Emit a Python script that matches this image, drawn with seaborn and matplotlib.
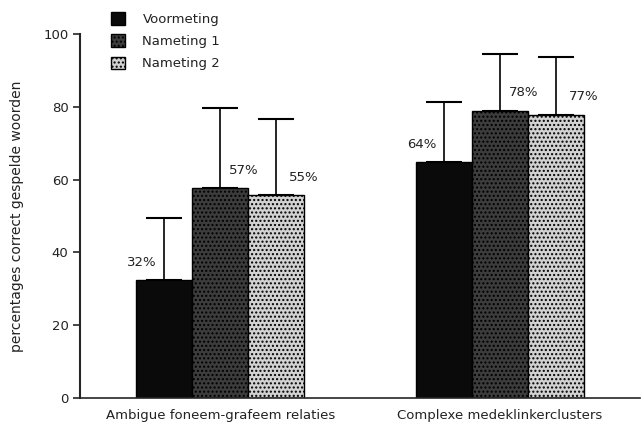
import pandas as pd
import matplotlib.pyplot as plt
import seaborn as sns
from matplotlib.patches import Patch

# Gegevens
categories = ["Ambigue foneem-grafeem relaties", "Complexe medeklinkerclusters"]
series = ["Voormeting", "Nameting 1", "Nameting 2"]
voormeting = [32.4, 64.8]
nameting_1 = [57.6, 78.9]
nameting_2 = [55.7, 77.9]
sd_voormeting = [17.1, 16.5]
sd_nameting_1 = [22.1, 15.6]
sd_nameting_2 = [20.9, 15.8]
labels = [["32%", "64%"], ["57%", "78%"], ["55%", "77%"]]

values = [voormeting, nameting_1, nameting_2]
sds = [sd_voormeting, sd_nameting_1, sd_nameting_2]
rows = []
for s, vals in zip(series, values):
    for c, v in zip(categories, vals):
        rows.append({"conditie": c, "meting": s, "waarde": v})
df = pd.DataFrame(rows)

sns.set_style("ticks")
plt.rcParams["font.family"] = ["DejaVu Sans"]
plt.rcParams["hatch.color"] = "#8f8f8f"

fig = plt.figure(figsize=(6.42, 4.22), dpi=100)
ax = fig.add_axes([0.125, 0.057, 0.872, 0.862])

colors = ["#0a0a0a", "#3c3c3c", "#d2d2d2"]
sns.barplot(data=df, x="conditie", y="waarde", hue="meting", hue_order=series,
            order=categories, palette=colors, width=0.6, errorbar=None,
            legend=False, ax=ax, saturation=1, zorder=2)

hatches = [None, "....", "...."]
label_dx = [-22, 24, 28]
bar_conts = list(ax.containers)
for i, cont in enumerate(bar_conts):
    for j, bar in enumerate(cont):
        bar.set_edgecolor("black")
        bar.set_linewidth(1.0)
        if hatches[i]:
            bar.set_hatch(hatches[i])
        xc = bar.get_x() + bar.get_width() / 2
        h = bar.get_height()
        # alleen naar boven; onderste kap valt achter de staaf
        ax.errorbar(xc, h, yerr=[[0], [sds[i][j]]], fmt="none", ecolor="black",
                    elinewidth=1.2, capsize=13, capthick=1.5, zorder=1)
        ax.annotate(labels[i][j], (xc, h), xytext=(label_dx[i], 18),
                    textcoords="offset pixels", ha="center", va="center",
                    fontsize=9.5, color="#222222")

ax.set_ylim(0, 100)
ax.set_xlim(-0.5, 1.5)
ax.set_yticks([0, 20, 40, 60, 80, 100])
ax.set_ylabel("percentages correct gespelde woorden", fontsize=10, color="#222222",
              labelpad=14)
ax.set_xlabel("")
ax.tick_params(axis="y", labelsize=9.5, length=5, width=1.2, direction="out",
               labelcolor="#222222")
ax.tick_params(axis="x", labelsize=9.5, length=0, pad=8, labelcolor="#222222")
sns.despine(ax=ax)
ax.spines["left"].set_linewidth(1.5)
ax.spines["bottom"].set_linewidth(1.2)

handles = [Patch(facecolor=colors[k], edgecolor="black", hatch=hatches[k]) for k in range(3)]
fig.legend(handles, series, loc="upper left", bbox_to_anchor=(0.154, 1.0),
           frameon=False, handlelength=1.1, handleheight=1.1, handletextpad=1.3,
           labelspacing=0.65, fontsize=9.5, labelcolor="#222222")

fig.savefig("out.png", dpi=100)
